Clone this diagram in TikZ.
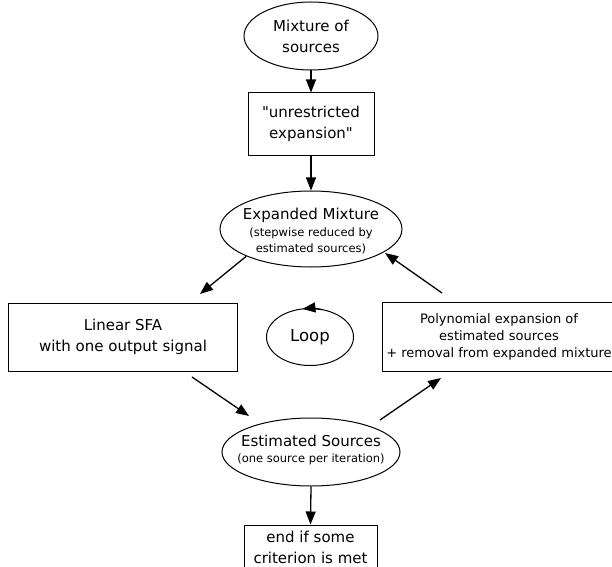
\documentclass[tikz,border=0pt]{standalone}
\usepackage{fontspec}
\setmainfont{DejaVu Sans}[Ligatures=TeXOff]
\usetikzlibrary{shapes.geometric,arrows.meta}
\newcommand\fmain{\fontsize{15bp}{21bp}\selectfont}
\newcommand\fsm{\fontsize{11.5bp}{15.5bp}\selectfont}
\newcommand\fpoly{\fontsize{13bp}{17bp}\selectfont}
\newcommand\floop{\fontsize{16.5bp}{20bp}\selectfont}
\tikzset{
  ell/.style={ellipse, draw, line width=1bp, inner sep=0pt, align=center},
  boxn/.style={rectangle, draw, line width=1bp, inner sep=0pt, align=center},
  txt/.style={inner sep=0pt, align=center},
  arr/.style={line width=1.3bp, -{Triangle[length=13bp,width=10bp]}}
}
\begin{document}
\begin{tikzpicture}[x=1bp,y=-1bp]
\useasboundingbox (0,0) rectangle (612,567);
\node[ell, font=\fmain, minimum width=134bp, minimum height=68bp] (mix) at (311,36) {Mixture of\\sources};
\node[boxn, font=\fmain, minimum width=126bp, minimum height=62bp] (unr) at (311,124) {"unrestricted\\expansion"};
\node[ell, minimum width=182bp, minimum height=76bp] (exp) at (311,229) {};
\node[txt, font=\fsm] (expT) at (311,231) {{\fmain Expanded Mixture}\\[2bp]
(stepwise reduced by\\estimated sources)};
\node[boxn, font=\fmain, minimum width=228bp, minimum height=68bp] (sfa) at (123,337) {Linear SFA\\with one output signal};
\node[boxn, font=\fpoly, minimum width=234bp, minimum height=69bp] (poly) at (499,337) {Polynomial expansion of\\estimated sources\\+ removal from expanded mixture};
\node[ell, font=\floop, minimum width=87bp, minimum height=57bp] (loop) at (310,337) {Loop};
\node[ell, minimum width=178bp, minimum height=68bp] (est) at (311,452) {};
\node[txt, font=\fsm] (estT) at (311,450) {{\fmain Estimated Sources}\\[1bp](one source per iteration)};
\node[boxn, font=\fmain, minimum width=133bp, minimum height=44bp] (end) at (310.5,547) {end if some\\criterion is met};
% free ends
\coordinate (sfaIn) at (200,294);
\coordinate (expIn) at (385,253);
\coordinate (polyOut) at (442,293);
\coordinate (sfaOut) at (192,377);
\coordinate (estIn) at (249,416);
\coordinate (estOut) at (380,420);
\coordinate (polyIn) at (441,378);
\draw[arr] (mix.south) -- (unr.north);
\draw[arr] (unr.south) -- (exp.north);
\draw[arr] (exp.south west) -- (sfaIn);
\draw[arr] (polyOut) -- (expIn);
\draw[arr] (sfaOut) -- (estIn);
\draw[arr] (estOut) -- (polyIn);
\draw[arr] (est.south) -- (end.north);
\draw[line width=1.3bp, -{Triangle[length=13bp,width=10bp]}]
  ([shift={(-75:43.5 and 28.5)}]loop.center) arc[start angle=-75, end angle=-100, x radius=43.5, y radius=28.5];
\end{tikzpicture}
\end{document}
